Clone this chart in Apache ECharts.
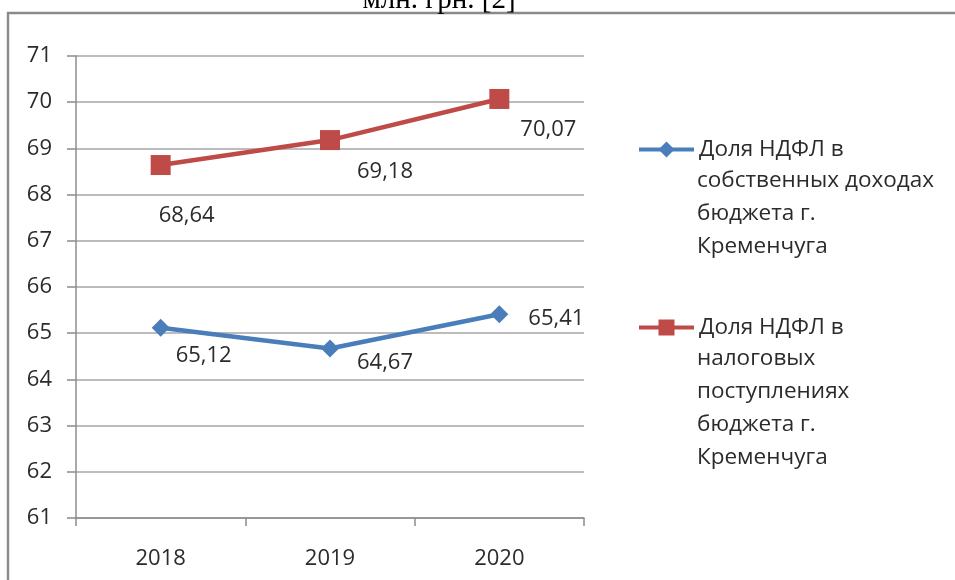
<!DOCTYPE html>
<html>
<head>
<meta charset="utf-8">
<script src="https://cdn.jsdelivr.net/npm/echarts@6/dist/echarts.min.js"></script>
<style>
html,body{margin:0;padding:0;background:#fff;}
#chart{width:955px;height:580px;}
</style>
</head>
<body>
<div id="chart"></div>
<script>
var categories = ['2018', '2019', '2020'];
var ownIncomeShare = [65.12, 64.67, 65.41];
var taxRevenueShare = [68.64, 69.18, 70.07];
var yTicks = {min: 61, max: 71, interval: 1};
var seriesNames = [
  'Доля НДФЛ в\nсобственных доходах\nбюджета г.\nКременчуга',
  'Доля НДФЛ в\nналоговых\nпоступлениях\nбюджета г.\nКременчуга'
];
var captionText = 'млн. грн. [2]';

var FONT = '"Open Sans", sans-serif';
var TXT = '#2b2b2b';
var LEG_FS = 22.5, LEG_LH = 33;
function fmt(p){ return p.value.toFixed(2).replace('.', ','); }
function firstLine(n){ return n.split('\n')[0]; }
function restLines(n){ return n.split('\n').slice(1).join('\n'); }

var legendTops = [138, 316];
var legendTextCenters = [148, 326];

var chart = echarts.init(document.getElementById('chart'));
chart.setOption({
  animation: false,
  backgroundColor: '#fff',
  grid: {left: 76, right: 371, top: 56, bottom: 62},
  graphic: [
    {type: 'rect', shape: {x: 8, y: 13, width: 980, height: 600},
     style: {fill: 'none', stroke: '#8a8a8a', lineWidth: 2.4}, z: -1},
    {type: 'text', x: 439, y: 15,
     style: {text: captionText, fill: '#000', font: '29px "Liberation Serif", serif',
             align: 'center', verticalAlign: 'bottom'}},
    {type: 'text', x: 697, y: legendTextCenters[0] + LEG_LH / 2,
     style: {text: restLines(seriesNames[0]), fill: TXT, fontFamily: FONT, fontSize: LEG_FS,
             lineHeight: LEG_LH, align: 'left', verticalAlign: 'top'}},
    {type: 'text', x: 697, y: legendTextCenters[1] + LEG_LH / 2,
     style: {text: restLines(seriesNames[1]), fill: TXT, fontFamily: FONT, fontSize: LEG_FS,
             lineHeight: LEG_LH, align: 'left', verticalAlign: 'top'}}
  ],
  legend: [0, 1].map(function(i){
    return {data: [seriesNames[i]], orient: 'vertical', left: 637, top: legendTops[i], padding: 0,
      itemWidth: 55, itemHeight: 20, itemGap: 0, formatter: firstLine,
      lineStyle: {width: 4},
      textStyle: {fontFamily: FONT, fontSize: LEG_FS, color: TXT, padding: [0, 0, 0, 0]}};
  }),
  xAxis: {
    type: 'category', data: categories, boundaryGap: true,
    axisLine: {lineStyle: {color: '#8c8c8c', width: 1.5}},
    axisTick: {show: true, length: 8, lineStyle: {color: '#8c8c8c', width: 1.5}},
    axisLabel: {fontFamily: FONT, fontSize: 22, color: TXT, margin: 30}
  },
  yAxis: {
    type: 'value', min: yTicks.min, max: yTicks.max, interval: yTicks.interval,
    axisLine: {show: true, lineStyle: {color: '#8c8c8c', width: 1.5}},
    axisTick: {show: true, length: 9, lineStyle: {color: '#8c8c8c', width: 1.5}},
    splitLine: {lineStyle: {color: '#a6a6a6', width: 1.5}},
    axisLabel: {fontFamily: FONT, fontSize: 22, color: TXT, margin: 24}
  },
  series: [
    {name: seriesNames[0], type: 'line', data: ownIncomeShare,
     symbol: 'diamond', symbolSize: 18,
     lineStyle: {color: '#4a7ebb', width: 4.5},
     itemStyle: {color: '#4a7ebb'},
     label: {show: true, formatter: fmt, fontFamily: FONT, fontSize: 22, color: TXT},
     labelLayout: function(p){
       var off = [[43, 28], [55, 14], [57, 4]][p.dataIndex];
       return {x: p.rect.x + p.rect.width / 2 + off[0], y: p.rect.y + p.rect.height / 2 + off[1],
               align: 'center', verticalAlign: 'middle'};
     }},
    {name: seriesNames[1], type: 'line', data: taxRevenueShare,
     symbol: 'rect', symbolSize: 20,
     lineStyle: {color: '#be4b48', width: 4.5},
     itemStyle: {color: '#be4b48'},
     label: {show: true, formatter: fmt, fontFamily: FONT, fontSize: 22, color: TXT},
     labelLayout: function(p){
       var off = [[26, 51], [55, 32], [49, 31]][p.dataIndex];
       return {x: p.rect.x + p.rect.width / 2 + off[0], y: p.rect.y + p.rect.height / 2 + off[1],
               align: 'center', verticalAlign: 'middle'};
     }}
  ]
});
</script>
</body>
</html>
